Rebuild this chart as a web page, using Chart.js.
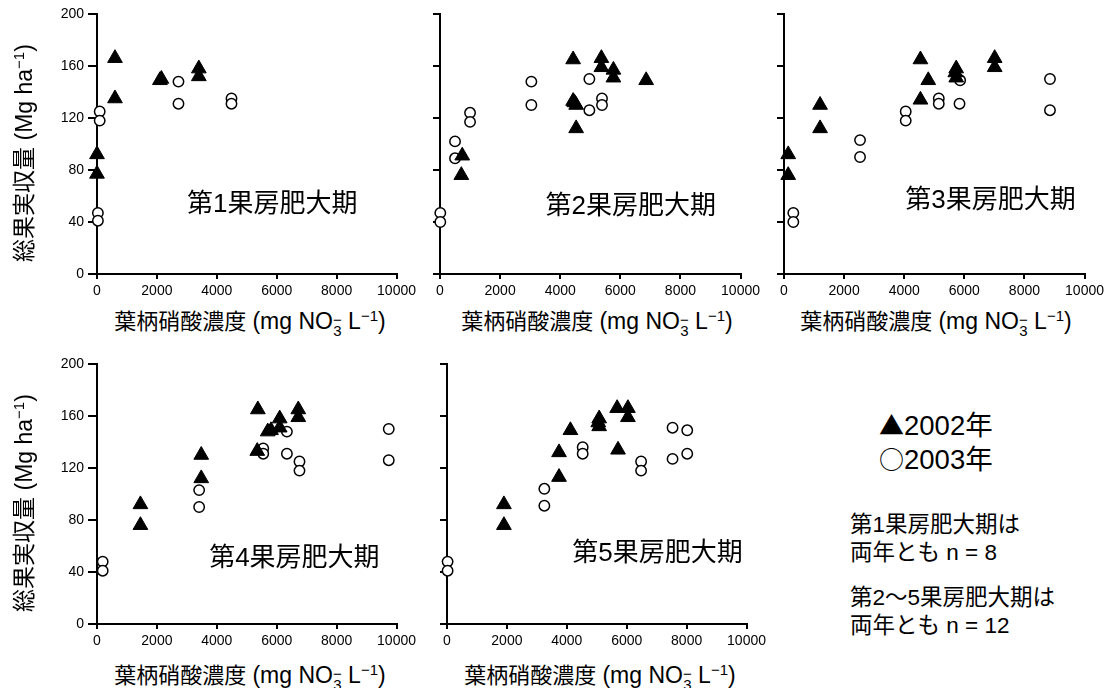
<!DOCTYPE html>
<html>
<head>
<meta charset="utf-8">
<script src="https://cdn.jsdelivr.net/npm/chart.js@4.4.0/dist/chart.umd.min.js"></script>
<style>
  body { margin: 0; background: #fff; }
  #wrap { position: relative; width: 1113px; height: 688px; overflow: hidden;
    font-family: 'Liberation Sans', 'Noto Sans CJK JP', sans-serif; color: #000; }
  .pc { position: absolute; }
  .xt, .yt { position: absolute; white-space: nowrap; line-height: 24px; }
  .xt { font-size: 22px; transform: translate(-50%, -50%); }
  .yt { font-size: 23px; transform: translate(-50%, -50%) rotate(-90deg); }
  .lat { font-size: 23px; }
  .ss { display: inline-block; vertical-align: -7px; line-height: 11px; font-size: 15px; text-align: center; }
  .ss span { display: block; }
  sup { font-size: 15px; vertical-align: 8px; line-height: 0; }
  .legend { position: absolute; left: 879px; top: 408px; font-size: 27.5px; line-height: 33px; }
  .sym { font-family: 'Noto Sans CJK JP', sans-serif; font-size: 25px; }
  .note { position: absolute; left: 850px; font-size: 22.5px; line-height: 28px; }
</style>
</head>
<body>
<div id="wrap">
  <canvas id="p1" class="pc" style="left:0px;top:0px"></canvas>
  <canvas id="p2" class="pc" style="left:420px;top:0px"></canvas>
  <canvas id="p3" class="pc" style="left:764px;top:0px"></canvas>
  <canvas id="p4" class="pc" style="left:0px;top:350px"></canvas>
  <canvas id="p5" class="pc" style="left:427px;top:350px"></canvas>

  <div class="yt" style="left:24px;top:153px">総果実収量 <span class="lat">(Mg ha<sup>−1</sup>)</span></div>
  <div class="yt" style="left:24px;top:503px">総果実収量 <span class="lat">(Mg ha<sup>−1</sup>)</span></div>

  <div class="xt" style="left:250px;top:322px">葉柄硝酸濃度 <span class="lat">(mg NO<span class="ss"><span>−</span><span>3</span></span> L<sup>−1</sup>)</span></div>
  <div class="xt" style="left:597px;top:322px">葉柄硝酸濃度 <span class="lat">(mg NO<span class="ss"><span>−</span><span>3</span></span> L<sup>−1</sup>)</span></div>
  <div class="xt" style="left:936px;top:322px">葉柄硝酸濃度 <span class="lat">(mg NO<span class="ss"><span>−</span><span>3</span></span> L<sup>−1</sup>)</span></div>
  <div class="xt" style="left:250px;top:676px">葉柄硝酸濃度 <span class="lat">(mg NO<span class="ss"><span>−</span><span>3</span></span> L<sup>−1</sup>)</span></div>
  <div class="xt" style="left:600px;top:676px">葉柄硝酸濃度 <span class="lat">(mg NO<span class="ss"><span>−</span><span>3</span></span> L<sup>−1</sup>)</span></div>

  <div class="legend"><span class="sym">▲</span>2002年<br><span class="sym">○</span>2003年</div>
  <div class="note" style="top:511px">第1果房肥大期は<br>両年とも n = 8</div>
  <div class="note" style="top:584px">第2～5果房肥大期は<br>両年とも n = 12</div>
</div>
<script>
// x = 葉柄硝酸濃度 (mg/L), y = 総果実収量 (Mg/ha)
var p1Tri2002X = [0, 0, 600, 600, 2100, 2150, 3400, 3400];
var p1Tri2002Y = [92, 77, 166, 135, 149, 150, 158, 152];
var p1Cir2003X = [90, 90, 30, 30, 2720, 2720, 4490, 4490];
var p1Cir2003Y = [125, 118, 47, 41, 148, 131, 135, 131];

var p2Tri2002X = [4430, 5370, 5370, 5770, 5770, 6860, 4430, 4470, 4530, 4530, 740, 710];
var p2Tri2002Y = [165, 166, 159, 157, 151, 149, 133, 132, 130, 112, 91, 76];
var p2Cir2003X = [10, 10, 500, 500, 1000, 1000, 3040, 3040, 4970, 4970, 5390, 5390];
var p2Cir2003Y = [47, 40, 102, 89, 124, 117, 148, 130, 150, 126, 135, 130];

var p3Tri2002X = [140, 140, 1200, 1200, 4540, 4800, 4540, 5730, 5730, 5700, 7010, 7010];
var p3Tri2002Y = [92, 76, 130, 112, 165, 149, 134, 158, 151, 155, 166, 159];
var p3Cir2003X = [310, 310, 2530, 2530, 4050, 4050, 5150, 5150, 5860, 5840, 8850, 8850];
var p3Cir2003Y = [47, 40, 103, 90, 125, 118, 135, 131, 149, 131, 150, 126];

var p4Tri2002X = [1450, 1450, 3480, 3480, 5370, 5350, 5810, 5700, 6100, 6100, 6720, 6720];
var p4Tri2002Y = [92, 76, 130, 112, 165, 133, 149, 148, 158, 151, 165, 159];
var p4Cir2003X = [190, 190, 3410, 3410, 5550, 5550, 6340, 6340, 6760, 6760, 9740, 9740];
var p4Cir2003Y = [48, 41, 103, 90, 135, 131, 148, 131, 125, 118, 150, 126];

var p5Tri2002X = [1900, 1900, 3740, 3740, 4120, 5080, 5080, 5050, 5680, 6040, 6040, 5710];
var p5Tri2002Y = [92, 76, 132, 113, 149, 158, 152, 155, 166, 166, 159, 134];
var p5Cir2003X = [20, 20, 3250, 3250, 4530, 4530, 6480, 6480, 7530, 7530, 8020, 8020];
var p5Cir2003Y = [48, 41, 104, 91, 136, 131, 125, 118, 151, 127, 149, 131];

var xTicks = [0, 2000, 4000, 6000, 8000, 10000];
var yTicks = [0, 40, 80, 120, 160, 200];
var stageLabels = ['第1果房肥大期', '第2果房肥大期', '第3果房肥大期', '第4果房肥大期', '第5果房肥大期'];

var tickFont = { family: "'Liberation Sans', Arial, sans-serif", size: 14 };

function pts(xs, ys) {
  return xs.map(function(x, i) { return { x: x, y: ys[i] }; });
}

// draws the stage name inside the plot, at a spot given in data units
var stageLabelPlugin = {
  id: 'stageLabel',
  afterDatasetsDraw: function(chart, args, opts) {
    var ctx = chart.ctx;
    ctx.save();
    ctx.font = "26px 'Liberation Sans', 'Noto Sans CJK JP', sans-serif";
    ctx.fillStyle = '#000';
    ctx.textAlign = 'center';
    ctx.textBaseline = 'middle';
    ctx.fillText(opts.text, chart.scales.x.getPixelForValue(opts.x), chart.scales.y.getPixelForValue(opts.y));
    ctx.restore();
  }
};

function makePanel(id, w, yAxisW, showY, triX, triY, cirX, cirY, label, lx, ly) {
  var el = document.getElementById(id);
  el.style.width = w + 'px';
  el.style.height = '300px';
  el.width = w;
  el.height = 300;
  return new Chart(el, {
    type: 'scatter',
    data: {
      datasets: [
        {
          label: '2002年',
          data: pts(triX, triY),
          pointStyle: 'triangle',
          pointRadius: 8.5,
          backgroundColor: '#000',
          borderColor: '#000',
          borderWidth: 1,
          clip: false
        },
        {
          label: '2003年',
          data: pts(cirX, cirY),
          pointStyle: 'circle',
          pointRadius: 5.2,
          backgroundColor: '#fff',
          borderColor: '#000',
          borderWidth: 1.5,
          clip: false
        }
      ]
    },
    options: {
      responsive: false,
      animation: false,
      layout: { padding: { top: 14, right: 20, bottom: 0, left: 0 } },
      plugins: {
        legend: { display: false },
        tooltip: { enabled: false },
        stageLabel: { text: label, x: lx, y: ly }
      },
      scales: {
        x: {
          type: 'linear', min: 0, max: 10000,
          afterBuildTicks: function(s) { s.ticks = xTicks.map(function(v) { return { value: v }; }); },
          afterFit: function(s) { s.height = 26; },
          ticks: { font: tickFont, color: '#000', padding: 4, maxRotation: 0, autoSkip: false,
                   callback: function(v) { return String(v); } },
          grid: { drawOnChartArea: false, tickLength: 5, color: '#000', lineWidth: 2 },
          border: { color: '#000', width: 2 }
        },
        y: {
          type: 'linear', min: 0, max: 200,
          afterBuildTicks: function(s) { s.ticks = yTicks.map(function(v) { return { value: v }; }); },
          afterFit: function(s) { s.width = yAxisW; },
          ticks: { display: showY, font: tickFont, color: '#000', padding: 4,
                   callback: function(v) { return String(v); } },
          grid: { drawOnChartArea: false, tickLength: showY ? 9 : 7, color: '#000', lineWidth: 2 },
          border: { color: '#000', width: 2 }
        }
      }
    },
    plugins: [stageLabelPlugin]
  });
}

makePanel('p1', 420, 97, true, p1Tri2002X, p1Tri2002Y, p1Cir2003X, p1Cir2003Y, stageLabels[0], 5850, 53);
makePanel('p2', 344, 20, false, p2Tri2002X, p2Tri2002Y, p2Cir2003X, p2Cir2003Y, stageLabels[1], 6350, 52);
makePanel('p3', 344, 20, false, p3Tri2002X, p3Tri2002Y, p3Cir2003X, p3Cir2003Y, stageLabels[2], 6870, 56);
makePanel('p4', 420, 97, true, p4Tri2002X, p4Tri2002Y, p4Cir2003X, p4Cir2003Y, stageLabels[3], 6590, 50);
makePanel('p5', 343, 20, false, p5Tri2002X, p5Tri2002Y, p5Cir2003X, p5Cir2003Y, stageLabels[4], 7030, 54);
</script>
</body>
</html>
